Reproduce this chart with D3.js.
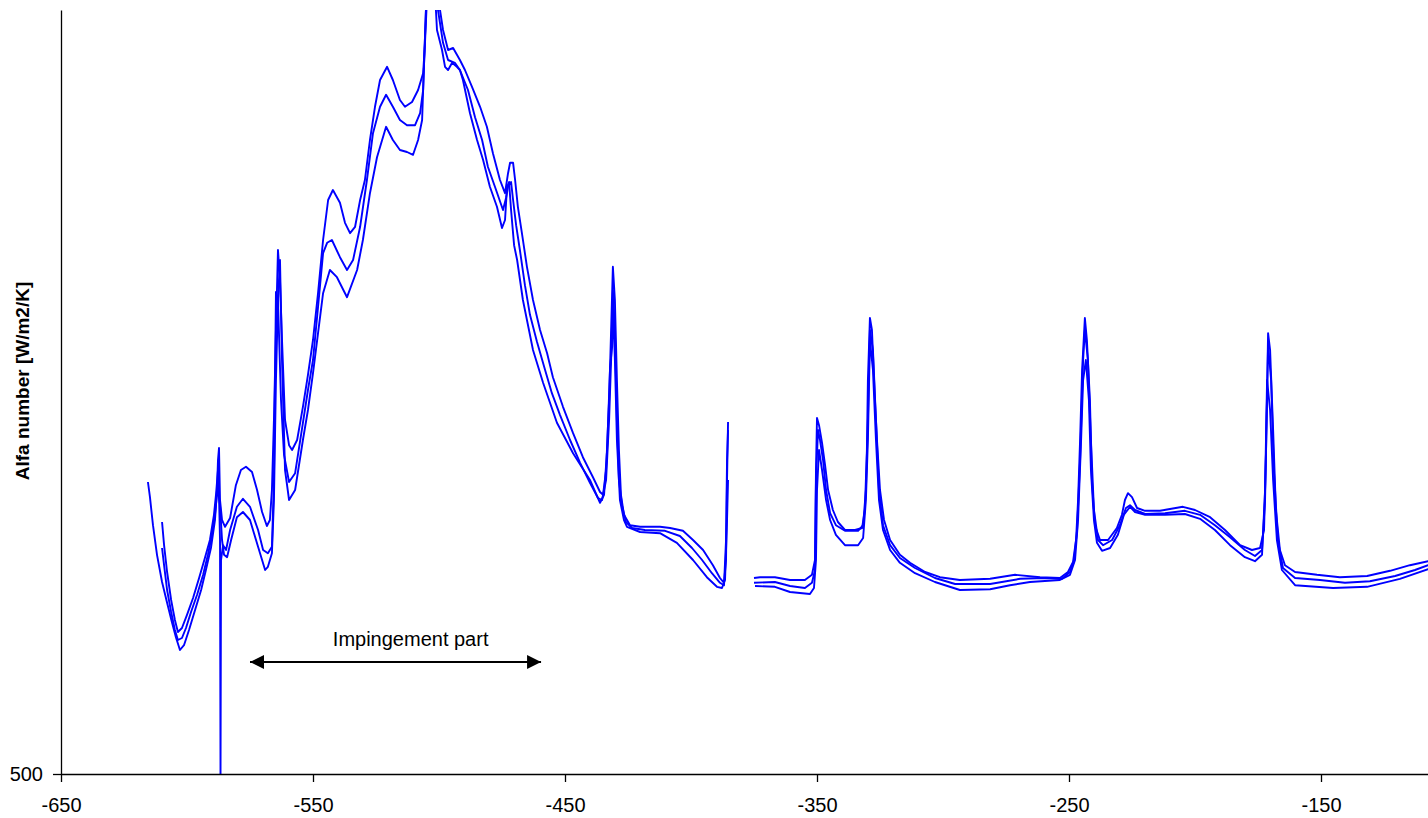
<!DOCTYPE html>
<meta charset="utf-8">
<style>
body { margin: 0; background: #fff; }
.axis text { font: 20px "Liberation Sans", Arial, sans-serif; fill: #000; }
.axis path, .axis line { stroke: #000; stroke-width: 1.3; }
.series { fill: none; stroke: #0000ff; stroke-width: 1.9; stroke-linejoin: round; }
.ylabel { font: bold 19px "Liberation Sans", Arial, sans-serif; }
.note { font: 20px "Liberation Sans", Arial, sans-serif; }
</style>
<svg id="chart" width="1428" height="818"></svg>
<script src="https://cdn.jsdelivr.net/npm/d3@7"></script>
<script>

// position along the channel [mm] vs. alfa number [W/m2/K], three measurements
var xTicks = [-650, -550, -450, -350, -250, -150];
var yTicks = [500];

var seriesA = [
  [-615.5,1230],[-614.7,1192],[-613.5,1122],[-611.9,1048],[-609.9,980],[-607.9,928],[-606.0,880],
  [-604.4,842],[-602.8,810],[-601.2,822],[-599.2,860],[-596.8,910],[-594.4,960],[-592.5,1010],
  [-590.5,1065],[-588.9,1135],[-588.1,1210],[-587.7,1285],[-587.3,1315],[-586.9,1185],[-586.1,1135],
  [-584.9,1118],[-582.9,1140],[-580.6,1222],[-578.6,1260],[-576.6,1268],[-574.2,1255],[-572.2,1210],
  [-570.2,1155],[-568.3,1120],[-567.1,1135],[-566.3,1210],[-565.5,1385],[-564.7,1610],[-563.9,1810],
  [-563.1,1735],[-562.3,1585],[-561.1,1385],[-559.5,1322],[-558.3,1310],[-556.3,1335],[-554.0,1418],
  [-552.0,1498],[-550.0,1585],[-548.0,1702],[-546.0,1835],[-544.0,1935],[-542.1,1960],[-539.3,1928],
  [-537.3,1878],[-535.3,1852],[-533.3,1868],[-531.3,1935],[-529.4,1985],[-527.4,2085],[-525.4,2168],
  [-523.4,2235],[-520.6,2268],[-518.3,2235],[-515.5,2185],[-513.5,2168],[-510.7,2180],[-508.3,2210],
  [-506.3,2252],[-505.6,2322],[-504.8,2435],[-503.6,2550],[-501.6,2550],[-499.6,2410],[-498.4,2360],
  [-496.4,2310],[-494.4,2315],[-491.7,2285],[-489.7,2260],[-486.9,2218],[-483.7,2168],[-481.0,2118],
  [-478.6,2052],[-475.8,1985],[-473.8,1952],[-472.6,2002],[-471.8,2028],[-470.6,2028],[-469.8,1985],
  [-468.7,1918],[-467.1,1852],[-465.1,1768],[-462.7,1685],[-459.9,1610],[-457.1,1552],[-454.8,1492],
  [-450.8,1418],[-446.8,1352],[-442.9,1292],[-438.9,1242],[-436.1,1205],[-434.9,1198],[-433.7,1260],
  [-432.5,1435],[-431.7,1610],[-431.0,1768],[-430.2,1685],[-429.4,1485],[-428.6,1310],[-427.8,1198],
  [-426.6,1148],[-424.2,1122],[-420.2,1118],[-412.3,1118],[-408.3,1115],[-403.2,1108],[-399.2,1085],
  [-395.2,1060],[-391.3,1022],[-388.5,990],[-386.9,978],[-386.1,1035],[-385.7,1235],[-385.3,1380],
  null,
  [-375.0,990],[-372.6,992],[-366.7,992],[-360.7,985],[-354.8,985],[-352.0,998],[-350.8,1035],
  [-350.4,1260],[-350.0,1390],[-349.2,1372],[-348.0,1328],[-346.8,1272],[-345.6,1210],[-343.7,1160],
  [-341.7,1130],[-338.9,1110],[-334.9,1110],[-332.1,1115],[-331.0,1160],[-330.2,1310],[-329.8,1485],
  [-329.0,1640],[-328.2,1610],[-327.0,1435],[-326.2,1335],[-325.0,1210],[-323.4,1135],[-321.0,1085],
  [-317.1,1048],[-313.1,1028],[-307.1,1005],[-301.2,992],[-293.3,985],[-281.3,988],[-271.4,998],
  [-261.5,992],[-253.6,990],[-250.4,1005],[-248.4,1030],[-247.2,1085],[-246.4,1185],[-245.6,1335],
  [-244.8,1510],[-243.7,1640],[-242.9,1585],[-241.7,1435],[-240.9,1235],[-239.7,1122],[-237.7,1085],
  [-234.5,1085],[-231.0,1115],[-229.0,1148],[-227.8,1185],[-226.6,1202],[-225.0,1192],[-223.0,1165],
  [-219.8,1158],[-213.9,1158],[-204.8,1168],[-200.0,1160],[-194.0,1142],[-188.1,1110],[-182.1,1072],
  [-177.4,1060],[-174.2,1065],[-172.6,1110],[-171.8,1310],[-171.0,1602],[-170.2,1560],[-169.0,1360],
  [-167.9,1160],[-166.3,1060],[-164.3,1022],[-160.3,1005],[-151.6,998],[-142.5,992],[-131.7,995],
  [-122.6,1008],[-114.7,1022],[-107.5,1032],[-103.0,1037]
];

var seriesB = [
  [-609.9,1130],[-609.1,1072],[-607.9,1005],[-606.3,935],[-604.8,885],[-603.6,855],[-602.0,865],
  [-600.0,898],[-597.6,940],[-595.2,990],[-592.9,1040],[-590.9,1085],[-589.3,1148],[-588.5,1198],
  [-587.7,1260],[-587.3,1198],[-586.9,1085],[-586.7,480],[-586.5,1035],[-585.7,1072],[-584.5,1060],
  [-582.9,1110],[-580.2,1168],[-577.8,1188],[-575.0,1168],[-571.8,1110],[-569.8,1060],[-567.9,1052],
  [-566.3,1068],[-565.5,1235],[-564.7,1705],[-563.9,1685],[-562.7,1435],[-561.5,1298],[-559.5,1230],
  [-557.1,1252],[-554.0,1378],[-552.0,1460],[-550.0,1535],[-548.0,1668],[-546.0,1802],[-544.4,1828],
  [-542.5,1835],[-539.3,1792],[-536.5,1760],[-534.1,1785],[-531.3,1868],[-528.6,1985],[-526.2,2102],
  [-523.4,2168],[-521.0,2198],[-518.3,2168],[-515.5,2135],[-512.7,2122],[-509.5,2122],[-507.5,2152],
  [-506.3,2210],[-505.6,2335],[-504.4,2550],[-502.0,2550],[-500.4,2410],[-498.4,2328],[-496.4,2285],
  [-493.7,2278],[-491.7,2260],[-488.5,2210],[-485.7,2142],[-482.9,2085],[-480.6,2018],[-477.8,1968],
  [-474.6,1910],[-473.4,1940],[-472.6,1968],[-471.4,1980],[-470.6,1935],[-469.4,1872],[-467.9,1810],
  [-465.9,1722],[-463.9,1648],[-461.1,1580],[-457.9,1510],[-455.2,1452],[-452.0,1398],[-448.0,1335],
  [-444.0,1278],[-440.1,1228],[-436.9,1190],[-435.3,1185],[-433.7,1235],[-432.5,1385],[-431.7,1535],
  [-431.0,1710],[-430.2,1610],[-429.4,1385],[-428.6,1235],[-427.4,1172],[-425.8,1130],[-423.4,1115],
  [-418.3,1110],[-410.3,1108],[-404.4,1095],[-399.6,1065],[-395.6,1035],[-391.7,1002],[-388.5,978],
  [-386.9,972],[-386.1,1085],[-385.7,1285],[-385.3,1360],
  null,
  [-375.0,978],[-366.7,980],[-360.7,970],[-354.8,965],[-352.0,978],[-350.8,1010],[-350.4,1235],
  [-349.6,1360],[-348.8,1335],[-347.6,1285],[-346.4,1210],[-344.8,1152],[-342.5,1122],[-338.9,1108],
  [-333.7,1108],[-331.7,1122],[-330.6,1210],[-329.8,1385],[-329.0,1610],[-327.8,1560],[-326.6,1385],
  [-325.4,1210],[-323.8,1122],[-321.0,1072],[-317.1,1040],[-311.1,1015],[-303.2,990],[-295.2,975],
  [-281.3,975],[-269.4,988],[-259.5,990],[-252.8,988],[-249.6,1005],[-248.0,1035],[-246.8,1110],
  [-245.6,1285],[-244.4,1535],[-243.7,1610],[-242.5,1535],[-241.3,1335],[-240.1,1160],[-238.5,1085],
  [-236.5,1072],[-232.9,1085],[-229.8,1122],[-227.4,1165],[-225.8,1172],[-223.8,1160],[-219.8,1150],
  [-211.9,1152],[-204.0,1158],[-198.0,1148],[-192.1,1122],[-186.1,1092],[-180.2,1060],[-176.2,1045],
  [-173.4,1060],[-172.2,1185],[-171.0,1572],[-169.8,1485],[-168.7,1260],[-167.1,1085],[-165.1,1015],
  [-160.3,990],[-150.4,985],[-140.5,978],[-130.6,982],[-120.6,995],[-112.7,1010],[-107.5,1022],
  [-103.0,1028]
];

var seriesC = [
  [-609.9,1065],[-609.1,1022],[-607.9,960],[-606.3,905],[-604.8,860],[-603.6,835],[-602.0,840],
  [-600.4,865],[-598.4,905],[-596.0,948],[-593.6,998],[-591.7,1048],[-590.1,1098],[-588.9,1148],
  [-588.1,1198],[-587.7,1210],[-586.9,1172],[-586.1,1085],[-585.3,1048],[-584.1,1042],[-582.5,1085],
  [-580.2,1142],[-577.8,1155],[-575.0,1135],[-571.8,1068],[-569.0,1010],[-567.9,1018],[-566.3,1052],
  [-565.5,1185],[-564.7,1485],[-563.9,1685],[-563.1,1785],[-562.3,1535],[-561.1,1260],[-559.5,1185],
  [-557.1,1210],[-554.0,1335],[-552.0,1410],[-550.0,1502],[-548.0,1602],[-546.0,1702],[-543.3,1760],
  [-540.5,1742],[-536.5,1692],[-532.5,1760],[-530.2,1835],[-527.4,1952],[-524.6,2042],[-521.0,2118],
  [-518.3,2085],[-515.5,2060],[-512.7,2055],[-510.3,2048],[-508.3,2085],[-506.7,2135],[-506.3,2210],
  [-505.6,2335],[-504.4,2550],[-502.4,2550],[-500.8,2360],[-498.8,2310],[-497.6,2268],[-496.4,2260],
  [-494.8,2278],[-492.9,2268],[-491.7,2260],[-490.5,2235],[-487.7,2152],[-484.9,2085],[-482.5,2035],
  [-479.8,1968],[-477.0,1918],[-475.0,1865],[-473.8,1885],[-473.0,1968],[-472.2,1980],[-471.4,1910],
  [-470.2,1822],[-469.0,1785],[-466.7,1685],[-462.7,1560],[-458.7,1478],[-453.2,1378],[-446.8,1302],
  [-440.1,1235],[-436.1,1178],[-434.5,1198],[-433.3,1310],[-432.1,1518],[-431.3,1568],[-431.0,1685],
  [-430.2,1535],[-429.4,1335],[-428.2,1185],[-426.6,1135],[-425.4,1118],[-420.2,1105],[-412.3,1102],
  [-405.6,1078],[-399.2,1035],[-393.7,992],[-389.7,968],[-387.7,965],[-386.5,985],[-385.7,1135],
  [-385.3,1235],
  null,
  [-374.6,970],[-366.7,968],[-360.7,955],[-352.8,950],[-351.2,965],[-350.4,1035],[-350.0,1210],
  [-349.2,1310],[-348.0,1260],[-346.4,1185],[-344.8,1135],[-342.5,1098],[-338.9,1072],[-333.7,1072],
  [-331.7,1090],[-330.6,1185],[-329.8,1335],[-329.0,1585],[-327.8,1510],[-326.6,1335],[-325.4,1185],
  [-323.8,1110],[-321.0,1060],[-317.1,1028],[-311.1,1002],[-303.2,980],[-293.3,960],[-281.3,962],
  [-273.4,972],[-265.5,980],[-253.6,985],[-249.6,998],[-247.6,1035],[-246.4,1135],[-245.2,1335],
  [-244.4,1485],[-243.3,1535],[-242.1,1435],[-241.3,1260],[-240.1,1135],[-238.9,1078],[-236.9,1058],
  [-233.7,1065],[-230.6,1098],[-228.2,1148],[-225.8,1168],[-223.8,1155],[-219.8,1148],[-211.9,1148],
  [-204.0,1150],[-198.0,1138],[-192.1,1110],[-186.1,1072],[-180.2,1042],[-176.2,1032],[-173.4,1048],
  [-172.2,1210],[-171.4,1485],[-170.2,1410],[-169.0,1235],[-167.5,1085],[-165.5,1010],[-160.3,972],
  [-145.2,965],[-131.7,968],[-118.7,988],[-107.5,1012],[-103.0,1018]
];

var svg = d3.select("#chart");

var x = d3.scaleLinear()
    .domain([-650, -100])
    .range([61, 1447]);

var y = d3.scaleLinear()
    .domain([500, 2410])
    .range([774, 10]);

svg.append("defs").append("clipPath")
    .attr("id", "plot-clip")
  .append("rect")
    .attr("x", 61)
    .attr("y", 10)
    .attr("width", 1428 - 61)
    .attr("height", 774 - 10);

var line = d3.line()
    .defined(function(d) { return d !== null; })
    .x(function(d) { return x(d[0]); })
    .y(function(d) { return y(d[1]); });

svg.append("g")
    .attr("clip-path", "url(#plot-clip)")
  .selectAll("path")
  .data([seriesA, seriesB, seriesC])
  .enter().append("path")
    .attr("class", "series")
    .attr("d", line);

// axes (plain hyphen for negatives, like the original)
svg.append("g")
    .attr("class", "axis")
    .attr("transform", "translate(0,774)")
    .call(d3.axisBottom(x)
      .tickValues(xTicks)
      .tickFormat(function(d) { return String(d); })
      .tickSize(8)
      .tickSizeOuter(0)
      .tickPadding(16));

svg.append("g")
    .attr("class", "axis")
    .attr("transform", "translate(61,0)")
    .call(d3.axisLeft(y)
      .tickValues(yTicks)
      .tickFormat(function(d) { return String(d); })
      .tickSize(8)
      .tickSizeOuter(0)
      .tickPadding(10));

svg.append("text")
    .attr("class", "ylabel")
    .attr("transform", "translate(22,381) rotate(-90)")
    .attr("text-anchor", "middle")
    .attr("dy", "0.35em")
    .text("Alfa number [W/m2/K]");

// impingement annotation
var noteFrom = -575, noteTo = -459.5, noteLevel = 780;

svg.append("defs").append("marker")
    .attr("id", "head")
    .attr("viewBox", "0 0 10 10")
    .attr("refX", 10)
    .attr("refY", 5)
    .attr("markerUnits", "userSpaceOnUse")
    .attr("markerWidth", 15)
    .attr("markerHeight", 14)
    .attr("orient", "auto-start-reverse")
  .append("path")
    .attr("d", "M0,0L10,5L0,10Z")
    .attr("fill", "#000");

svg.append("line")
    .attr("x1", x(noteFrom))
    .attr("x2", x(noteTo))
    .attr("y1", y(noteLevel))
    .attr("y2", y(noteLevel))
    .attr("stroke", "#000")
    .attr("stroke-width", 2)
    .attr("marker-start", "url(#head)")
    .attr("marker-end", "url(#head)");

svg.append("text")
    .attr("class", "note")
    .attr("x", x((noteFrom + noteTo) / 2 + 6))
    .attr("y", y(820))
    .attr("text-anchor", "middle")
    .text("Impingement part");

</script>
